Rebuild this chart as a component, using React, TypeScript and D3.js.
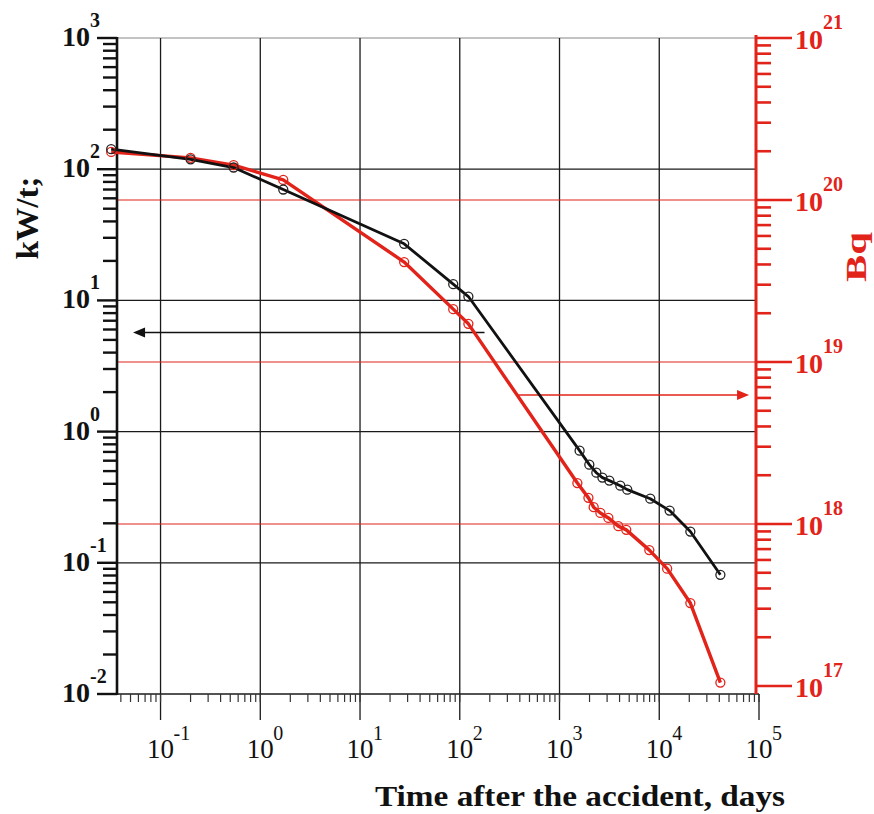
import React, { useRef, useEffect } from 'react';
import * as d3 from 'd3';

// time after the accident, days (black series: decay heat, kW/t)
const heatDays = [0.032, 0.2, 0.54, 1.7, 27.7, 86, 122, 1590, 1990, 2340, 2690, 3160, 4070, 4780, 8130, 12700, 20500, 41000];
const heatValues = [142, 119, 103, 70, 27, 13.3, 10.7, 0.716, 0.56, 0.486, 0.446, 0.423, 0.387, 0.361, 0.308, 0.25, 0.173, 0.081];

// red series: activity, Bq
const actDays = [0.032, 0.2, 0.54, 1.7, 27.7, 86, 122, 1510, 1950, 2200, 2570, 3090, 3890, 4670, 7950, 12000, 20500, 41000];
const actValues = [1.98e20, 1.82e20, 1.64e20, 1.33e20, 4.14e19, 2.12e19, 1.72e19, 1.79e18, 1.45e18, 1.27e18, 1.17e18, 1.09e18, 9.7e17, 9.2e17, 6.9e17, 5.3e17, 3.25e17, 1.05e17];

const xExponents = [-1, 0, 1, 2, 3, 4, 5];
const leftExponents = [-2, -1, 0, 1, 2, 3];
const rightExponents = [17, 18, 19, 20, 21];

// arrows that point at the axis each curve belongs to
const blackArrow = { from: 177, to: 0.053, value: 5.7 };
const redArrow = { from: 387, to: 79500, value: 6.25e18 };

const RED = '#e2231a';
const FONT = '"Liberation Serif", "DejaVu Serif", serif';

const App = () => {
  const svgRef = useRef<SVGSVGElement>(null);
  const width = 874;
  const height = 814;

  useEffect(() => {
    const svg = d3.select(svgRef.current);
    svg.selectAll('*').remove();

    const left = 117, right = 756, top = 38, bottom = 694;

    const x = d3.scaleLog().domain([0.0366, 1e5]).range([left, 759]);
    const yL = d3.scaleLog().domain([1e-2, 1e3]).range([bottom, top]);
    const yR = d3.scaleLog().domain([1e17, 1e21]).range([686, top]);

    const g = svg.append('g');

    // top border
    g.append('line').attr('x1', left).attr('x2', right).attr('y1', top).attr('y2', top)
      .attr('stroke', '#888').attr('stroke-width', 1.2);

    // vertical grid at each decade
    xExponents.filter(e => e < 5).forEach(e => {
      g.append('line')
        .attr('x1', x(10 ** e)).attr('x2', x(10 ** e))
        .attr('y1', top).attr('y2', bottom + 26)
        .attr('stroke', '#1a1a1a').attr('stroke-width', 1.3);
    });
    g.append('line').attr('x1', x(1e5)).attr('x2', x(1e5)).attr('y1', bottom).attr('y2', bottom + 26)
      .attr('stroke', '#1a1a1a').attr('stroke-width', 1.3);

    // horizontal grid: black for left axis, red for right axis
    leftExponents.filter(e => e > -2 && e < 3).forEach(e => {
      g.append('line')
        .attr('x1', left).attr('x2', right)
        .attr('y1', yL(10 ** e)).attr('y2', yL(10 ** e))
        .attr('stroke', '#1a1a1a').attr('stroke-width', 1.3);
    });
    rightExponents.filter(e => e > 17 && e < 21).forEach(e => {
      g.append('line')
        .attr('x1', left).attr('x2', right)
        .attr('y1', yR(10 ** e)).attr('y2', yR(10 ** e))
        .attr('stroke', RED).attr('stroke-width', 1.1);
    });

    // bottom axis with minor ticks
    g.append('line').attr('x1', left).attr('x2', 759).attr('y1', bottom).attr('y2', bottom)
      .attr('stroke', '#1a1a1a').attr('stroke-width', 1.5);
    x.ticks().forEach(t => {
      g.append('line')
        .attr('x1', x(t)).attr('x2', x(t))
        .attr('y1', bottom).attr('y2', bottom + 8)
        .attr('stroke', '#333').attr('stroke-width', 1.2);
    });

    // left axis
    g.append('line').attr('x1', left).attr('x2', left).attr('y1', top - 1).attr('y2', bottom + 1)
      .attr('stroke', '#111').attr('stroke-width', 2.6);
    yL.ticks().forEach(t => {
      const major = Math.abs(Math.log10(t) - Math.round(Math.log10(t))) < 1e-6;
      g.append('line')
        .attr('x1', left - (major ? 20 : 14)).attr('x2', left)
        .attr('y1', yL(t)).attr('y2', yL(t))
        .attr('stroke', '#111').attr('stroke-width', 2.4);
    });

    // right axis (red)
    g.append('line').attr('x1', right).attr('x2', right).attr('y1', top - 3).attr('y2', bottom)
      .attr('stroke', RED).attr('stroke-width', 3);
    yR.ticks().forEach(t => {
      const major = Math.abs(Math.log10(t) - Math.round(Math.log10(t))) < 1e-6;
      g.append('line')
        .attr('x1', right).attr('x2', right + (major ? 36 : 15))
        .attr('y1', yR(t)).attr('y2', yR(t))
        .attr('stroke', RED).attr('stroke-width', 2.6);
    });

    // tick labels
    const power = (px: number, py: number, exp: number, anchor: string, bold: boolean, color: string,
      size: number, supSize: number, supDx: number, supDy: number) => {
      const t = g.append('g').attr('font-family', FONT).attr('fill', color)
        .attr('font-weight', bold ? 'bold' : 'normal');
      t.append('text').attr('x', px).attr('y', py).attr('text-anchor', anchor)
        .attr('font-size', size).text('10');
      t.append('text').attr('x', px + supDx).attr('y', py + supDy)
        .attr('font-size', supSize).text(String(exp));
    };
    leftExponents.forEach(e => power(90, yL(10 ** e) + 8, e, 'end', true, '#111', 28, 20, 0, -19));
    rightExponents.forEach(e => power(795, yR(10 ** e) + 11, e, 'start', true, RED, 28, 20, 28, -20));
    xExponents.forEach(e => power(x(10 ** e), 758, e, 'middle', false, '#111', 27, 20, 13, -18));

    // axis titles
    g.append('text')
      .attr('transform', `translate(38,218) rotate(-90)`)
      .attr('text-anchor', 'middle')
      .attr('font-family', FONT).attr('font-weight', 'bold').attr('font-size', 31)
      .attr('textLength', 83).attr('lengthAdjust', 'spacingAndGlyphs')
      .attr('fill', '#111').text('kW/t;');
    g.append('text')
      .attr('transform', `translate(866,257) rotate(-90)`)
      .attr('text-anchor', 'middle')
      .attr('font-family', FONT).attr('font-weight', 'bold').attr('font-size', 29)
      .attr('textLength', 50).attr('lengthAdjust', 'spacingAndGlyphs')
      .attr('fill', RED).text('Bq');
    g.append('text')
      .attr('x', 580).attr('y', 806)
      .attr('text-anchor', 'middle')
      .attr('font-family', FONT).attr('font-weight', 'bold').attr('font-size', 30)
      .attr('textLength', 410).attr('lengthAdjust', 'spacingAndGlyphs')
      .attr('fill', '#111').text('Time after the accident, days');

    // arrows
    const arrow = (x1: number, x2: number, y: number, color: string) => {
      const dir = Math.sign(x2 - x1);
      g.append('line').attr('x1', x1).attr('x2', x2 - dir * 8).attr('y1', y).attr('y2', y)
        .attr('stroke', color).attr('stroke-width', 1.6);
      g.append('path')
        .attr('d', `M${x2},${y} L${x2 - dir * 12},${y - 5} L${x2 - dir * 12},${y + 5} Z`)
        .attr('fill', color);
    };
    arrow(x(blackArrow.from), x(blackArrow.to), yL(blackArrow.value), '#111');
    arrow(x(redArrow.from), x(redArrow.to), yR(redArrow.value), RED);

    // series
    const heat = heatDays.map((d, i) => [d, heatValues[i]] as [number, number]);
    const act = actDays.map((d, i) => [d, actValues[i]] as [number, number]);

    const lineL = d3.line<[number, number]>().x(d => x(d[0])).y(d => yL(d[1]));
    const lineR = d3.line<[number, number]>().x(d => x(d[0])).y(d => yR(d[1]));

    g.append('path').attr('d', lineR(act)).attr('fill', 'none')
      .attr('stroke', RED).attr('stroke-width', 3.4).attr('stroke-linejoin', 'round');
    g.append('path').attr('d', lineL(heat)).attr('fill', 'none')
      .attr('stroke', '#111').attr('stroke-width', 2.8).attr('stroke-linejoin', 'round');

    g.selectAll('.act').data(act).enter().append('circle')
      .attr('cx', d => x(d[0])).attr('cy', d => yR(d[1])).attr('r', 4.5)
      .attr('fill', 'none').attr('stroke', RED).attr('stroke-width', 1.3);
    g.selectAll('.heat').data(heat).enter().append('circle')
      .attr('cx', d => x(d[0])).attr('cy', d => yL(d[1])).attr('r', 4.5)
      .attr('fill', 'none').attr('stroke', '#222').attr('stroke-width', 1.3);
  }, []);

  return (
    <svg ref={svgRef} width={width} height={height}
      style={{ position: 'absolute', left: 0, top: 0, background: '#ffffff' }} />
  );
};

export default App;
